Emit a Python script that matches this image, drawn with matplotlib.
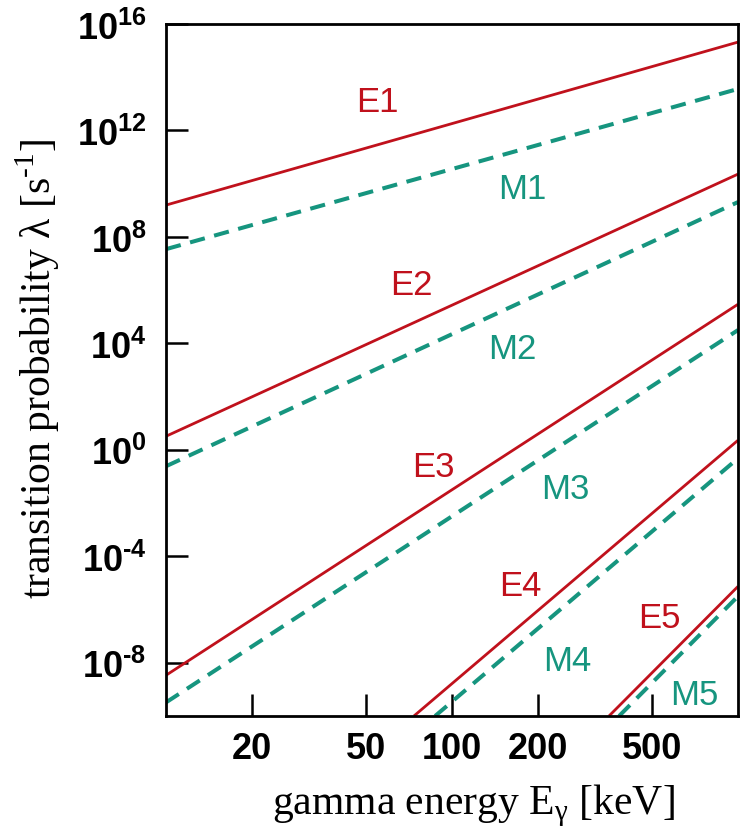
import matplotlib
matplotlib.use("Agg")
import matplotlib.pyplot as plt
import numpy as np

plt.rcParams['mathtext.fontset'] = 'custom'
plt.rcParams['mathtext.rm'] = 'Liberation Serif'
plt.rcParams['mathtext.bf'] = 'Liberation Sans:bold'
plt.rcParams['mathtext.sf'] = 'Liberation Sans'

# Data: straight lines in log-log, start and end points
e_labels = ['E1', 'E2', 'E3', 'E4', 'E5']
e_x0 = [10, 10, 10, 73.6, 354]
e_y0 = [1.57e9, 3.24, 3.39e-9, 1e-10, 1e-10]
e_x1 = [1000, 1000, 1000, 1000, 1000]
e_y1 = [2.09e15, 2.29e10, 2.95e5, 2.29, 7.4e-6]

m_labels = ['M1', 'M2', 'M3', 'M4', 'M5']
m_x0 = [10, 10, 10, 87.3, 384]
m_y0 = [3.47e7, 0.242, 3.24e-10, 1e-10, 1e-10]
m_x1 = [1000, 1000, 1000, 1000, 1000]
m_y1 = [3.63e13, 2.04e9, 3.16e4, 0.48, 3.16e-6]

# label anchor positions
e_lab_x = [55, 72, 86, 173, 530]
e_lab_y = [1.2e13, 1.7e6, 0.24, 8e-6, 5.1e-7]
m_lab_x = [176, 162, 250, 252, 702]
m_lab_y = [6.8e9, 6.6e3, 0.036, 1.2e-8, 6.5e-10]

x_ticks = [20, 50, 100, 200, 500]
y_exps = [16, 12, 8, 4, 0, -4, -8]

red = '#c0111c'
teal = '#16957f'

fig = plt.figure(figsize=(7.43, 8.28), dpi=100)
ax = fig.add_axes([166/743, 1-717/828, 572/743, 692/828])

for i in range(5):
    ax.plot([e_x0[i], e_x1[i]], [e_y0[i], e_y1[i]], color=red, lw=2.0,
            solid_capstyle='butt')
    ax.plot([m_x0[i], m_x1[i]], [m_y0[i], m_y1[i]], color=teal, lw=2.9,
            dashes=(3.8, 2.4), dash_capstyle='butt')
    ax.text(e_lab_x[i], e_lab_y[i], e_labels[i], color=red, fontsize=25,
            family='Liberation Sans', ha='center', va='center')
    ax.text(m_lab_x[i], m_lab_y[i], m_labels[i], color=teal, fontsize=25,
            family='Liberation Sans', ha='center', va='center')

ax.set_xscale('log')
ax.set_yscale('log')
ax.set_xlim(10, 1000)
ax.set_ylim(1e-10, 1e16)

ax.set_xticks(x_ticks)
ax.set_xticklabels([str(t) for t in x_ticks])
ax.set_yticks([10.0**e for e in y_exps])
ax.set_yticklabels([r'$\mathbf{10^{%s}}$' % str(e).replace('-', '\u2010') for e in y_exps])
ax.minorticks_off()
ax.tick_params(direction='in', length=16, width=1.8, labelsize=26, top=False, right=False)
ax.tick_params(axis='x', pad=11)
ax.tick_params(axis='y', pad=14)
for lab in ax.get_xticklabels():
    lab.set_family('Liberation Sans')
    lab.set_weight('bold')

for sp in ax.spines.values():
    sp.set_linewidth(2.0)

ax.set_xlabel('gamma energy E$_{\\mathrm{γ}}$ [keV]', family='Liberation Serif', fontsize=30)
ax.xaxis.set_label_coords(0.538, -0.094)
ax.set_ylabel('transition probability λ [s$^{\\mathrm{\u20101}}$]', family='Liberation Serif', fontsize=30)
ax.yaxis.set_label_coords(-0.182, 0.503)

fig.savefig('out.png', dpi=100)
